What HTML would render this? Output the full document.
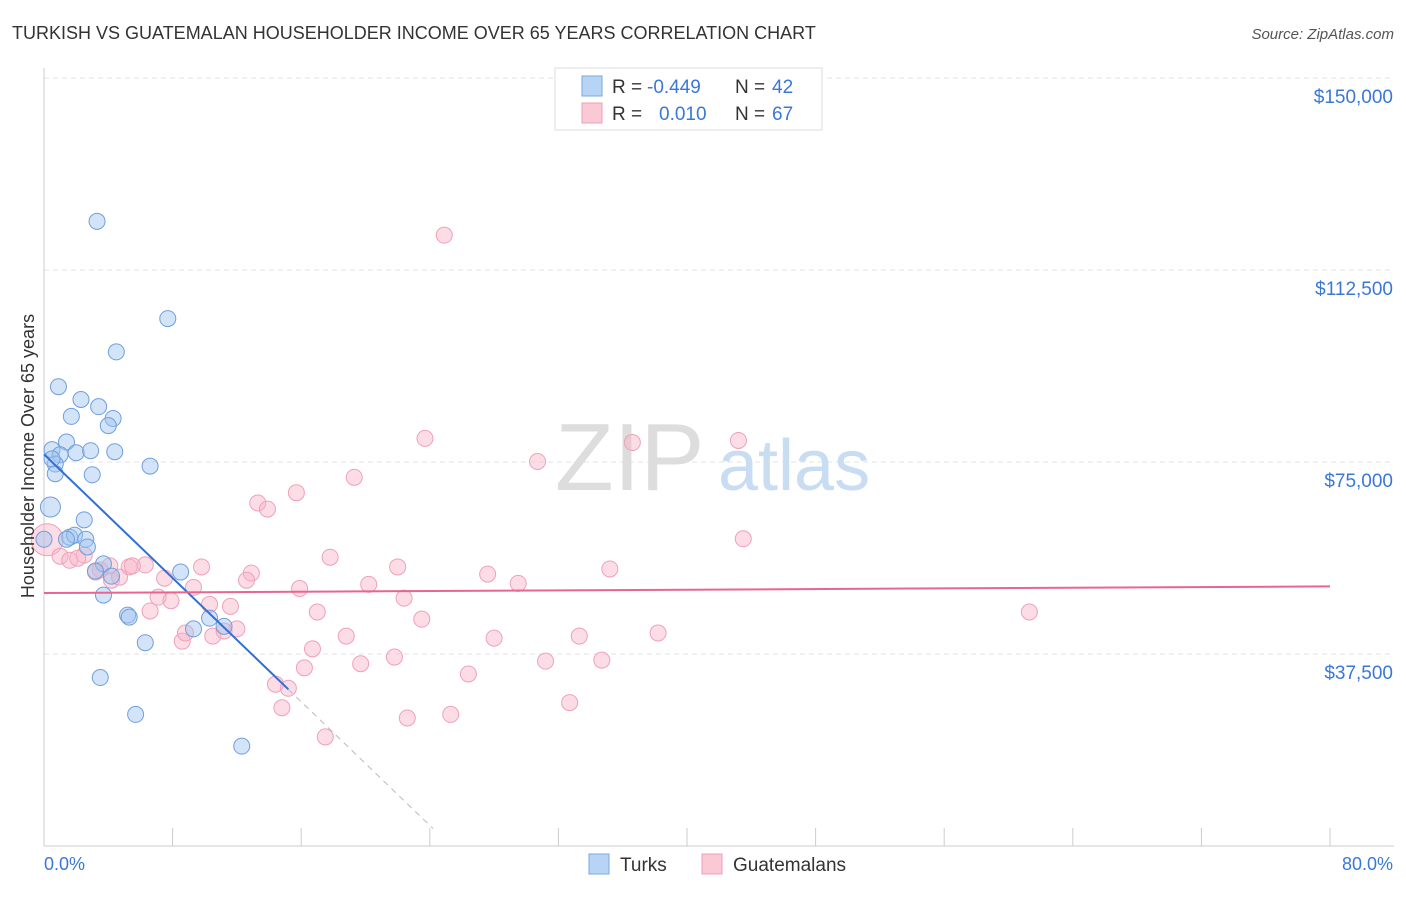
<!DOCTYPE html>
<html><head><meta charset="utf-8"><style>
body{margin:0;background:#fff;font-family:"Liberation Sans",sans-serif}
svg text{font-family:"Liberation Sans",sans-serif}
</style></head><body>
<svg width="1406" height="892" viewBox="0 0 1406 892">
<text x="12" y="39" font-size="18" fill="#333">TURKISH VS GUATEMALAN HOUSEHOLDER INCOME OVER 65 YEARS CORRELATION CHART</text>
<text x="1394" y="39" font-size="15" fill="#555" font-style="italic" text-anchor="end">Source: ZipAtlas.com</text>
<g id="grid"></g>
<text x="555" y="490" font-size="96" fill="#ddd" font-family="Liberation Serif">ZIP</text>
<text x="718" y="490" font-size="72" fill="#c8dcf2">atlas</text>
<g id="pts"></g>
<g id="trends"></g>
<text transform="translate(34,456) rotate(-90)" font-size="18" fill="#333" text-anchor="middle">Householder Income Over 65 years</text>
<text x="44" y="870" font-size="18" fill="#3a78d6">0.0%</text>
<text x="1393" y="870" font-size="18" fill="#3a78d6" text-anchor="end">80.0%</text>
<g>
<rect x="555" y="68" width="267" height="62" fill="#fff" stroke="#ddd"/>
<rect x="582" y="76" width="20" height="20" fill="#b7d3f5" stroke="#7aa8e0"/>
<rect x="582" y="103" width="20" height="20" fill="#fbc8d6" stroke="#eea0b8"/>
<text x="612" y="93" font-size="19" fill="#333">R =</text>
<text x="647" y="93" font-size="19" fill="#3a78d6">-0.449</text>
<text x="735" y="93" font-size="19" fill="#333">N =</text>
<text x="772" y="93" font-size="19" fill="#3a78d6">42</text>
<text x="612" y="120" font-size="19" fill="#333">R =</text>
<text x="659" y="120" font-size="19" fill="#3a78d6">0.010</text>
<text x="735" y="120" font-size="19" fill="#333">N =</text>
<text x="772" y="120" font-size="19" fill="#3a78d6">67</text>
</g>
<g>
<rect x="589" y="854" width="20" height="20" fill="#b7d3f5" stroke="#7aa8e0"/>
<text x="620" y="871" font-size="19" fill="#333">Turks</text>
<rect x="702" y="854" width="20" height="20" fill="#fbc8d6" stroke="#eea0b8"/>
<text x="733" y="871" font-size="19" fill="#333">Guatemalans</text>
</g>
</svg>
<script>
const yTicks=[37500,75000,112500,150000];
const yTickLabels=["$37,500","$75,000","$112,500","$150,000"];
const xTicks=[0,8,16,24,32,40,48,56,64,72,80];
const turksX=[3.3,7.7,4.5,0.9,2.3,3.4,1.7,4.3,4.0,1.4,0.5,1.0,2.0,2.9,4.4,6.6,0.7,0.7,3.0,0.4,2.5,1.6,1.9,2.6,1.4,2.7,3.7,3.2,4.2,8.5,3.7,5.2,5.3,10.3,9.3,11.2,6.3,3.5,5.7,12.3,0.0,0.5];
const turksY=[122000,103000,96500,89700,87200,85800,83900,83500,82100,78900,77400,76400,76800,77200,77000,74200,74600,72700,72500,66200,63700,60300,60700,59900,59900,58400,55100,53700,52700,53500,49000,45100,44700,44500,42400,42900,39700,32900,25700,19500,59900,75600];
const guatX=[24.9,23.7,36.6,43.2,30.7,19.3,15.7,13.3,13.9,43.5,17.8,0.2,1.0,1.6,2.5,3.5,4.2,5.3,6.3,7.5,9.8,12.9,12.6,22.0,35.2,27.6,29.5,20.2,9.3,10.3,11.6,7.1,7.9,6.6,17.0,22.4,23.5,61.3,18.8,8.6,10.5,12.0,16.7,28.0,33.3,38.2,21.8,19.7,31.2,34.7,16.2,26.4,14.4,15.2,32.7,14.8,22.6,25.3,17.5,5.5,4.1,8.8,11.2,4.7,3.2,2.1,15.9];
const guatY=[119300,79600,78800,79200,75100,72000,69000,67000,65800,60000,56400,59800,56600,55800,56800,53900,51900,54500,54900,52300,54500,53300,51900,54500,54100,53100,51300,51100,50500,47200,46800,48600,47900,45900,45700,48400,44300,45700,41000,40000,41000,42400,38500,40600,41000,41600,36900,35600,36100,36300,34800,33600,31600,30800,28000,27000,25000,25700,21300,54700,54700,41600,42000,52500,53500,56200,50300];
const NS="http://www.w3.org/2000/svg";
const X=v=>44+v*16.075, Y=v=>846-v/195.3;
function mk(tag,attrs,parent){const e=document.createElementNS(NS,tag);for(const k in attrs)e.setAttribute(k,attrs[k]);parent.appendChild(e);return e;}
const grid=document.getElementById('grid');
yTicks.forEach((t,i)=>{
 const l=mk('line',{x1:44,x2:1394,y1:Y(t),y2:Y(t),stroke:'#e3e3e3','stroke-dasharray':'5,4'},grid);
 
 
 const tx=mk('text',{x:1393,y:Y(t)+25,'font-size':19,fill:'#3a78d6','text-anchor':'end'},grid);
 tx.textContent=yTickLabels[i];
 
 
});
const ax=mk('line',{x1:44,x2:44,y1:68,y2:846,stroke:'#ccc'},grid);


const bx=mk('line',{x1:44,x2:1394,y1:846,y2:846,stroke:'#ccc'},grid);


xTicks.forEach(t=>{
 const l=mk('line',{x1:X(t),x2:X(t),y1:828,y2:846,stroke:'#ccc'},grid);
 
 
});
const pts=document.getElementById('pts');
guatX.forEach((x,i)=>{
 const c=mk('circle',{cx:X(x),cy:Y(guatY[i]),r:i==11?16:8,fill:'rgba(248,180,200,0.45)',stroke:'#f0a0b8','stroke-width':1},pts);
 
 
});
turksX.forEach((x,i)=>{
 const c=mk('circle',{cx:X(x),cy:Y(turksY[i]),r:i==19?10:8,fill:'rgba(160,195,240,0.45)',stroke:'#6f9fdc','stroke-width':1},pts);
 
 
});
const tr=document.getElementById('trends');
const b0=76500,b1=-3020;
let l=mk('line',{x1:X(0),y1:Y(b0),x2:X(15.2),y2:Y(b0+b1*15.2),stroke:'#2f6fd6','stroke-width':2},tr);


l=mk('line',{x1:X(15.2),y1:Y(b0+b1*15.2),x2:X(24.2),y2:Y(b0+b1*24.2),stroke:'#bbb','stroke-width':1,'stroke-dasharray':'6,5'},tr);


l=mk('line',{x1:X(0),y1:Y(49400),x2:X(80),y2:Y(50700),stroke:'#e8668e','stroke-width':2},tr);


</script>
</body></html>
